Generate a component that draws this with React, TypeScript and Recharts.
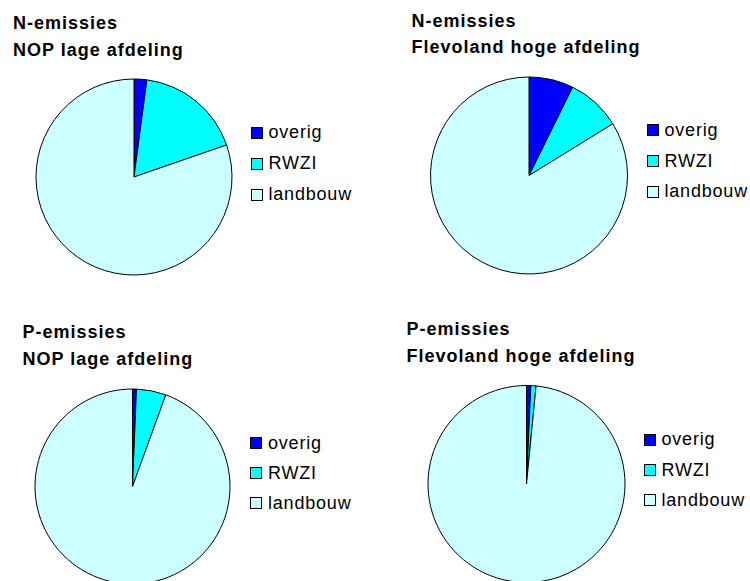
import React from 'react';
import { PieChart, Pie, Cell, Legend } from 'recharts';

const categories = ['overig', 'RWZI', 'landbouw'];
const colors = ['#0000FF', '#00FFFF', '#CCFFFF'];

// aandeel in procenten
const nNop = [2.1, 17.6, 80.3];
const nFlevoland = [7.3, 8.9, 83.8];
const pNop = [0.65, 4.9, 94.45];
const pFlevoland = [0.7, 0.85, 98.45];

const titlesN = ['N-emissies', 'N-emissies'];
const titlesP = ['P-emissies', 'P-emissies'];
const areas = ['NOP lage afdeling', 'Flevoland hoge afdeling'];

const toRows = (values: number[]) => categories.map((name, i) => ({ name, value: values[i] }));

const font = '"Liberation Sans", Arial, sans-serif';

function LegendBox({ payload, pitch }: any) {
  // zelfde volgorde als de categorieen
  const items = [...(payload || [])].sort(
    (a: any, b: any) => categories.indexOf(a.value) - categories.indexOf(b.value)
  );
  return (
    <div style={{ fontFamily: font, fontSize: 18, letterSpacing: 0.8, color: '#000' }}>
      {items.map((entry: any, i: number) => (
        <div key={i} style={{ display: 'flex', alignItems: 'center', height: pitch }}>
          <span
            style={{
              display: 'inline-block',
              width: 10,
              height: 10,
              border: '1px solid #000',
              background: entry.color,
              marginRight: 6,
            }}
          />
          <span style={{ lineHeight: '18px', marginTop: -1 }}>{entry.value}</span>
        </div>
      ))}
    </div>
  );
}

type PanelProps = {
  left: number;
  top: number;
  title: string;
  area: string;
  titleX: number;
  titleY: number;
  values: number[];
  cx: number;
  cy: number;
  r: number;
  legendX: number;
  legendY: number;
  pitch: number;
};

function Panel(p: PanelProps) {
  return (
    <div style={{ position: 'absolute', left: p.left, top: p.top, width: 375, height: 291 }}>
      <div
        style={{
          position: 'absolute',
          left: p.titleX,
          top: p.titleY,
          fontFamily: font,
          fontWeight: 'bold',
          fontSize: 18,
          letterSpacing: 1,
          lineHeight: '26.7px',
          color: '#000',
          whiteSpace: 'nowrap',
          zIndex: 2,
        }}
      >
        <div>{p.title}</div>
        <div>{p.area}</div>
      </div>
      <PieChart width={375} height={291} margin={{ top: 0, right: 0, bottom: 0, left: 0 }}>
        <Pie
          data={toRows(p.values)}
          dataKey="value"
          nameKey="name"
          cx={p.cx}
          cy={p.cy}
          outerRadius={p.r}
          startAngle={90}
          endAngle={-270}
          stroke="#000"
          strokeWidth={1}
          isAnimationActive={false}
        >
          {categories.map((c, i) => (
            <Cell key={c} fill={colors[i]} />
          ))}
        </Pie>
        <Legend
          layout="vertical"
          align="right"
          verticalAlign="middle"
          content={(props: any) => <LegendBox payload={props.payload} pitch={p.pitch} />}
          wrapperStyle={{ position: 'absolute', left: p.legendX, top: p.legendY, width: 'auto' }}
        />
      </PieChart>
    </div>
  );
}

export default function App() {
  return (
    <div style={{ position: 'absolute', left: 0, top: 0, width: 750, height: 581, background: '#fff', overflow: 'hidden' }}>
      <Panel left={0} top={0} title={titlesN[0]} area={areas[0]} titleX={13} titleY={10.4}
        values={nNop} cx={134} cy={177} r={98} legendX={250.5} legendY={117} pitch={31} />
      <Panel left={375} top={0} title={titlesN[1]} area={areas[1]} titleX={36.5} titleY={7.7}
        values={nFlevoland} cx={154} cy={175.5} r={98.5} legendX={271.5} legendY={115} pitch={30.8} />
      <Panel left={0} top={290} title={titlesP[0]} area={areas[0]} titleX={22.5} titleY={29.4}
        values={pNop} cx={132.5} cy={196.5} r={97.5} legendX={250} legendY={138.3} pitch={30} />
      <Panel left={375} top={290} title={titlesP[1]} area={areas[1]} titleX={31.5} titleY={26.4}
        values={pFlevoland} cx={151.5} cy={194} r={98.5} legendX={268.5} legendY={134.5} pitch={30.4} />
    </div>
  );
}
